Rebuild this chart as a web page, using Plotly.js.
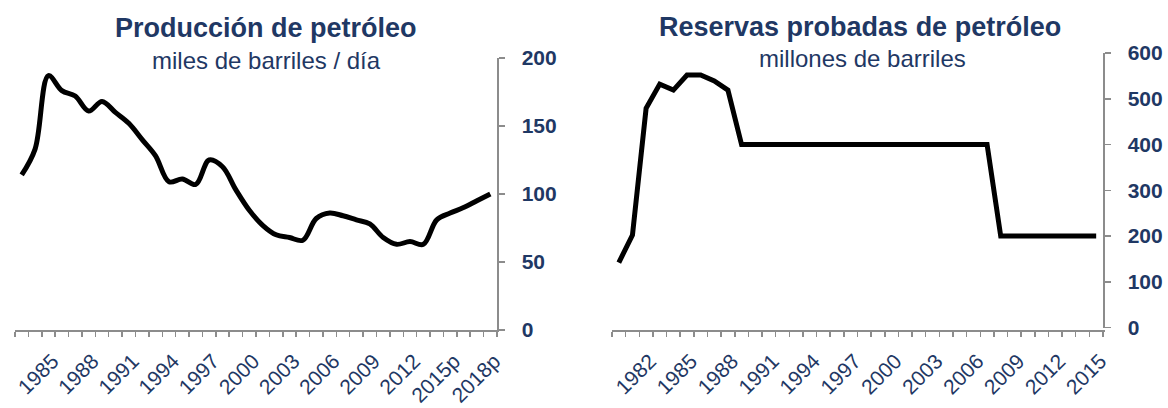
<!DOCTYPE html>
<html>
<head>
<meta charset="utf-8">
<script src="https://cdn.plot.ly/plotly-3.0.1.min.js"></script>
<style>html,body{margin:0;padding:0;background:#fff;}#chart{width:1168px;height:408px;}</style>
</head>
<body>
<div id="chart"></div>
<script>
// ---- Data ----
var prodYears = [1983,1984,1985,1986,1987,1988,1989,1990,1991,1992,1993,1994,1995,1996,1997,1998,1999,2000,2001,2002,2003,2004,2005,2006,2007,2008,2009,2010,2011,2012,2013,2014,2015,2016,2017,2018];
var prodValues = [114,133,187,176,172,161,168,160,152,140,128,109,111,107,125,120,103,88,77,70,68,66,82,86,84,81,78,68,63,65,63,81,86,90,95,100];
var prodTickYears = [1985,1988,1991,1994,1997,2000,2003,2006,2009,2012,2015,2018];
var prodTickText = ['1985','1988','1991','1994','1997','2000','2003','2006','2009','2012','2015p','2018p'];

var resYears = [1980,1981,1982,1983,1984,1985,1986,1987,1988,1989,1990,1991,1992,1993,1994,1995,1996,1997,1998,1999,2000,2001,2002,2003,2004,2005,2006,2007,2008,2009,2010,2011,2012,2013,2014,2015];
var resValues = [142,202,479,532,519,552,552,539,519,400,400,400,400,400,400,400,400,400,400,400,400,400,400,400,400,400,400,400,200,200,200,200,200,200,200,200];
var resTickYears = [1982,1985,1988,1991,1994,1997,2000,2003,2006,2009,2012,2015];
var resTickText = ['1982','1985','1988','1991','1994','1997','2000','2003','2006','2009','2012','2015'];

var titles = ['Producción de petróleo','Reservas probadas de petróleo'];
var subtitles = ['miles de barriles / día','millones de barriles'];

// ---- Style ----
var W = 1168, H = 408;
var NAVY = '#1F3864';
var GRAY = '#8C8C8C';
var FONT = 'Liberation Sans, Arial, sans-serif';
var LABEL_OFFSET = 0.3;

function px(x){ return x / W; }
function py(y){ return (H - y) / H; }

function xAxis(domain, years, tickYears, tickText){
  return {
    domain: domain,
    range: [years[0] - 0.5, years[years.length - 1] + 0.5],
    showline: true, linecolor: GRAY, linewidth: 1.5,
    showgrid: false, zeroline: false,
    tickmode: 'array',
    tickvals: tickYears.map(function(v){ return v + LABEL_OFFSET; }),
    ticktext: tickText,
    ticks: '', tickangle: -45,
    ticklabelstandoff: 9,
    tickfont: {family: FONT, size: 21, color: NAVY},
    minor: {ticks: 'outside', ticklen: 5, tickcolor: GRAY, tickwidth: 1.5,
            tick0: years[0] - 0.5, dtick: 1, showgrid: false},
    fixedrange: true
  };
}
function yAxis(domain, anchor, max, dtick){
  return {
    domain: domain, anchor: anchor, side: 'right',
    range: [0, max], dtick: dtick,
    showline: true, linecolor: GRAY, linewidth: 1.5,
    showgrid: false, zeroline: false,
    ticks: 'outside', ticklen: 6, tickcolor: GRAY, tickwidth: 1.5,
    ticklabelstandoff: 13,
    tickfont: {family: FONT, size: 21, color: NAVY, weight: 'bold'},
    fixedrange: true
  };
}

var traces = [
  {x: prodYears, y: prodValues, type: 'scatter', mode: 'lines',
   line: {color: '#000', width: 5, shape: 'spline', smoothing: 1},
   xaxis: 'x', yaxis: 'y', hoverinfo: 'skip'},
  {x: resYears, y: resValues, type: 'scatter', mode: 'lines',
   line: {color: '#000', width: 5},
   xaxis: 'x2', yaxis: 'y2', hoverinfo: 'skip'}
];

var layout = {
  width: W, height: H,
  margin: {l: 0, r: 0, t: 0, b: 0},
  paper_bgcolor: '#fff', plot_bgcolor: '#fff',
  showlegend: false,
  xaxis: xAxis([px(15), px(497)], prodYears, prodTickYears, prodTickText),
  yaxis: yAxis([py(330), py(58)], 'x', 200, 50),
  xaxis2: xAxis([px(612), px(1103)], resYears, resTickYears, resTickText),
  yaxis2: yAxis([py(327.5), py(53)], 'x2', 600, 100),
  annotations: [
    {text: titles[0], x: px(266), y: py(28), xref: 'paper', yref: 'paper', showarrow: false,
     xanchor: 'center', yanchor: 'middle', font: {family: FONT, size: 27, color: NAVY, weight: 'bold'}},
    {text: subtitles[0], x: px(266), y: py(60), xref: 'paper', yref: 'paper', showarrow: false,
     xanchor: 'center', yanchor: 'middle', font: {family: FONT, size: 24, color: NAVY}},
    {text: titles[1], x: px(860), y: py(27), xref: 'paper', yref: 'paper', showarrow: false,
     xanchor: 'center', yanchor: 'middle', font: {family: FONT, size: 27, color: NAVY, weight: 'bold'}},
    {text: subtitles[1], x: px(862), y: py(58), xref: 'paper', yref: 'paper', showarrow: false,
     xanchor: 'center', yanchor: 'middle', font: {family: FONT, size: 24, color: NAVY}}
  ]
};

Plotly.newPlot('chart', traces, layout, {displayModeBar: false, staticPlot: true});
</script>
</body>
</html>
